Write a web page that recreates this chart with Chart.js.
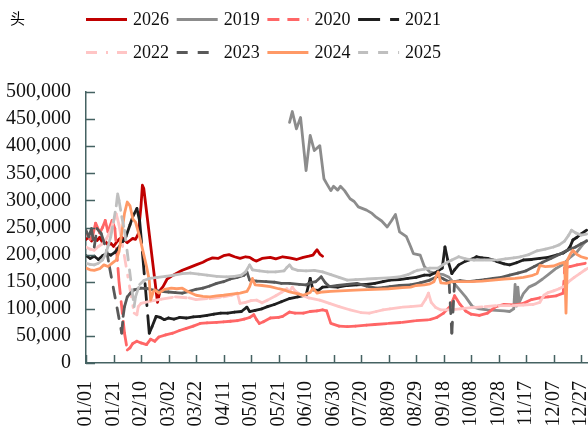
<!DOCTYPE html>
<html>
<head>
<meta charset="utf-8">
<script src="https://cdn.jsdelivr.net/npm/chart.js@4/dist/chart.umd.min.js"></script>
<style>
  html, body { margin: 0; padding: 0; background: #fff; }
  #wrap { position: relative; width: 588px; height: 436px; }
  #unit { position: absolute; left: 10px; top: 7px; font: 15px "Noto Sans CJK SC", sans-serif; color: #000; }
</style>
</head>
<body>
<div id="wrap">
  <canvas id="chart"></canvas>
  <div id="unit">头</div>
</div>
<script>
// day of year (0 = 01/01), value in thousand heads
const s2026 = [[0,228],[2,232],[4,225],[6,230],[8,226],[10,232],[12,222],[14,225],[16,218],[18,221],[20,215],[22,222],[24,228],[26,232],[28,227],[30,222],[32,226],[34,230],[36,228],[38,238],[40,290],[41,328],[42,322],[52,112],[54,135],[56,141],[59,155],[62,160],[65,164],[70,171],[75,176],[80,181],[85,186],[88,190],[92,194],[96,193],[100,198],[104,200],[108,196],[112,193],[116,196],[119,195],[122,190],[124,188],[128,193],[134,195],[138,192],[143,196],[148,194],[153,191],[158,195],[162,197],[165,199],[167,206],[168,209],[170,201],[172,197]];
const s2019 = [[148,444],[150,464],[153,432],[156,453],[160,355],[163,420],[166,392],[170,401],[173,340],[175,331],[178,318],[180,326],[183,319],[185,326],[188,318],[192,303],[195,298],[198,288],[204,282],[208,276],[211,269],[215,262],[219,251],[222,262],[225,274],[228,242],[233,233],[236,215],[238,202],[243,199],[246,178],[250,168],[255,165],[260,163],[264,158],[270,140],[276,122],[281,104],[286,100],[292,98],[298,97],[304,96],[308,95],[311,100],[312,145],[313,105],[314,140],[315,112],[318,128],[322,140],[327,146],[332,155],[337,165],[342,175],[347,182],[352,195],[357,205],[361,218],[364,226]];
const s2020 = [[0,242],[3,228],[5,236],[7,258],[10,240],[12,250],[14,263],[16,242],[19,263],[21,248],[24,150],[28,55],[30,24],[32,28],[34,36],[37,40],[40,37],[44,34],[47,44],[50,40],[53,48],[58,52],[63,55],[68,60],[73,64],[78,68],[83,73],[88,74],[95,75],[100,76],[105,77],[110,78],[115,81],[119,84],[122,89],[124,80],[126,73],[129,76],[134,83],[140,84],[143,86],[148,94],[152,92],[158,92],[163,95],[168,96],[172,98],[175,96],[178,73],[184,68],[190,67],[196,68],[204,70],[210,71],[220,73],[230,75],[240,78],[250,80],[255,84],[260,92],[265,105],[268,124],[272,108],[276,96],[280,90],[286,88],[292,92],[298,104],[304,108],[311,107],[318,110],[324,117],[330,120],[336,122],[342,124],[347,129],[348,175],[352,178],[357,181],[363,184]];
const s2021 = [[0,198],[3,193],[6,197],[9,191],[12,198],[15,202],[18,199],[21,204],[24,214],[27,225],[29,233],[32,255],[34,270],[37,285],[39,262],[41,205],[46,55],[48,67],[51,86],[54,84],[57,80],[60,83],[64,81],[68,84],[73,83],[78,85],[83,86],[88,88],[93,90],[98,92],[103,92],[108,94],[113,95],[117,103],[119,95],[123,97],[128,100],[132,104],[137,108],[142,113],[148,119],[154,122],[160,125],[163,156],[165,135],[169,134],[172,140],[177,141],[183,140],[190,143],[197,144],[204,145],[210,147],[216,150],[221,153],[228,154],[234,156],[240,158],[246,162],[250,162],[255,168],[259,175],[261,214],[263,190],[266,165],[268,172],[271,181],[276,188],[281,192],[284,196],[288,194],[292,193],[296,190],[299,187],[304,183],[308,181],[313,185],[318,190],[324,191],[330,193],[336,195],[342,199],[347,203],[350,208],[352,215],[354,227],[357,232],[360,238],[364,245]];
const s2022 = [[0,214],[3,210],[6,208],[9,215],[12,220],[15,230],[18,245],[20,262],[22,275],[24,255],[35,92],[37,89],[38,104],[40,110],[47,114],[55,118],[65,122],[75,120],[80,117],[90,119],[100,122],[106,125],[110,129],[112,110],[116,112],[120,115],[124,116],[128,111],[132,116],[138,124],[142,130],[146,137],[148,132],[150,140],[152,133],[156,126],[162,120],[170,116],[177,110],[184,104],[192,98],[200,93],[206,92],[211,95],[216,98],[221,100],[230,103],[236,104],[244,106],[247,118],[249,129],[251,112],[254,103],[258,98],[265,98],[272,100],[280,102],[290,104],[300,106],[310,106],[318,107],[325,108],[330,112],[333,125],[336,130],[340,133],[344,137],[348,142],[351,150],[355,158],[359,165],[363,172],[365,175]];
const s2023 = [[0,245],[2,233],[4,248],[6,214],[8,248],[11,239],[15,208],[17,178],[26,55],[27,86],[28,104],[30,122],[32,128],[35,135],[40,138],[45,137],[50,134],[55,132],[60,131],[65,130],[70,129],[75,132],[80,136],[85,138],[90,142],[95,147],[100,150],[105,155],[110,158],[115,162],[117,168],[119,153],[124,151],[131,150],[137,149],[142,147],[148,147],[155,145],[160,144],[163,148],[167,150],[171,159],[174,148],[177,141],[183,143],[190,145],[197,147],[204,142],[211,138],[216,139],[221,141],[228,143],[236,144],[243,148],[250,153],[256,160],[260,155],[264,150],[266,55],[268,150],[272,152],[278,150],[284,152],[290,154],[296,156],[302,158],[308,162],[314,166],[320,170],[326,178],[332,186],[338,193],[344,200],[350,208],[356,214],[360,220],[364,225]];
const s2024 = [[0,175],[3,172],[6,171],[10,174],[13,181],[16,178],[20,186],[22,190],[24,205],[26,240],[28,276],[30,297],[32,290],[34,266],[36,260],[39,233],[42,200],[44,178],[46,153],[47,116],[49,132],[50,135],[53,129],[57,136],[62,138],[66,137],[70,138],[74,132],[80,125],[85,123],[90,122],[95,124],[100,125],[106,127],[112,129],[117,132],[119,141],[121,156],[123,144],[128,143],[134,141],[140,137],[144,135],[148,131],[152,129],[155,127],[158,125],[163,130],[165,138],[168,129],[172,131],[178,132],[185,133],[192,134],[200,135],[210,136],[220,137],[230,139],[236,140],[240,143],[246,144],[250,146],[253,150],[256,168],[258,148],[262,147],[266,150],[272,150],[280,150],[288,151],[296,153],[304,155],[312,156],[318,158],[324,161],[328,165],[330,180],[334,178],[340,179],[345,184],[348,186],[349,92],[350,190],[352,200],[354,208],[357,200],[360,196],[364,193]];
const s2025 = [[0,184],[3,182],[6,181],[9,184],[12,190],[14,200],[16,215],[18,233],[20,260],[22,290],[23,312],[24,300],[26,270],[28,245],[35,104],[36,122],[39,145],[42,152],[46,156],[52,158],[58,160],[64,162],[70,165],[76,166],[82,164],[88,162],[95,160],[102,159],[108,160],[113,162],[116,168],[119,181],[121,172],[126,170],[132,168],[138,168],[144,170],[146,176],[148,181],[150,174],[154,171],[160,170],[166,171],[172,168],[178,163],[184,158],[190,153],[196,154],[204,155],[212,156],[220,157],[228,159],[234,163],[238,168],[241,171],[246,173],[250,175],[256,175],[260,182],[266,190],[271,196],[276,192],[282,190],[290,190],[299,190],[305,192],[311,194],[316,196],[322,200],[328,207],[334,210],[340,214],[344,218],[348,225],[351,236],[353,245],[356,240],[360,236],[364,238]];

const tickDays = [0,20,40,60,80,100,120,140,160,180,200,220,240,260,280,300,320,340,360];
const tickLabels = ['01/01','01/21','02/10','03/02','03/22','04/11','05/01','05/21','06/10','06/30','07/20','08/09','08/29','09/18','10/08','10/28','11/17','12/07','12/27'];

const years  = ['2026','2019','2020','2021','2022','2023','2024','2025'];
const series = [s2026, s2019, s2020, s2021, s2022, s2023, s2024, s2025];
const colors = ['#c00000','#8c8c8c','#ff6666','#1f1f1f','#ffc5c5','#595959','#ff9966','#bfbfbf'];
const dashes = [null, null, [12,8], [22,10], [11,9,2,9], [11,10], null, [10,10]];

const AXIS = '#456262';
const SERIF = '"Liberation Serif", "Times New Roman", serif';

// Excel restarts the dash pattern on every segment: alternate the offset so each
// segment becomes its own run, short segments then look solid
function segmentDash(pattern) {
  return {
    borderDash: () => pattern,
    borderDashOffset: c => (c.p0DataIndex % 2) * 0.01
  };
}

const datasets = series.map(function(s, i) {
  const ds = {
    label: years[i],
    data: s.map(function(p) { return { x: p[0], y: p[1] * 1000 }; }),
    borderColor: colors[i],
    backgroundColor: colors[i],
    borderWidth: 2.8,
    pointRadius: 0,
    borderJoinStyle: 'round',
    borderCapStyle: 'round',
    tension: 0,
    order: series.length - i,
    legendDash: dashes[i]
  };
  if (dashes[i]) ds.segment = segmentDash(dashes[i]);
  return ds;
});

// legend in two rows of four, line sample + year
const yearLegend = {
  id: 'yearLegend',
  afterDraw(chart) {
    const ctx = chart.ctx;
    ctx.save();
    ctx.font = '18px ' + SERIF;
    ctx.textBaseline = 'middle';
    chart.data.datasets.forEach(function(ds, i) {
      const x = 86 + (i % 4) * 90.7;
      const y = i < 4 ? 19.5 : 52.5;
      ctx.strokeStyle = ds.borderColor;
      ctx.lineWidth = 3;
      ctx.lineCap = 'butt';
      ctx.setLineDash(ds.legendDash || []);
      ctx.beginPath();
      ctx.moveTo(x, y);
      ctx.lineTo(x + 41, y);
      ctx.stroke();
      ctx.setLineDash([]);
      ctx.fillStyle = '#111';
      ctx.fillText(ds.label, x + 47, y + 1);
    });
    ctx.restore();
  }
};

// short tick marks pointing into the plot
const innerTicks = {
  id: 'innerTicks',
  afterDatasetsDraw(chart) {
    const ctx = chart.ctx, xs = chart.scales.x, ys = chart.scales.y, a = chart.chartArea;
    ctx.save();
    ctx.strokeStyle = AXIS;
    ctx.lineWidth = 1.5;
    ctx.beginPath();
    ys.ticks.forEach(function(t) {
      const py = Math.round(ys.getPixelForValue(t.value)) + 0.5;
      ctx.moveTo(a.left, py); ctx.lineTo(a.left + 9, py);
    });
    tickDays.forEach(function(d) {
      const px = Math.round(xs.getPixelForValue(d)) + 0.5;
      ctx.moveTo(px, a.bottom); ctx.lineTo(px, a.bottom - 8);
    });
    ctx.stroke();
    ctx.restore();
  }
};

new Chart(document.getElementById('chart').getContext('2d'), {
  type: 'line',
  data: { datasets: datasets },
  options: {
    responsive: true, maintainAspectRatio: false, animation: false,
    layout: { padding: { top: 92, right: 0, bottom: 0, left: 0 }, autoPadding: false },
    plugins: { legend: { display: false }, tooltip: { enabled: false } },
    scales: {
      x: {
        type: 'linear', min: 0, max: 365,
        afterBuildTicks: function(s) { s.ticks = tickDays.map(function(v) { return { value: v }; }); },
        afterFit: function(s) { s.height = 73; s.paddingLeft = 0; s.paddingRight = 0; },
        grid: { display: false, drawTicks: false },
        border: { display: true, color: AXIS, width: 1.5 },
        ticks: {
          autoSkip: false, minRotation: 90, maxRotation: 90, padding: 18,
          color: '#111', font: { family: SERIF, size: 20 },
          callback: function(v) { return tickLabels[tickDays.indexOf(v)]; }
        }
      },
      y: {
        min: 0, max: 500000,
        afterFit: function(s) { s.width = 86; s.paddingTop = 0; s.paddingBottom = 0; },
        grid: { display: false, drawTicks: false },
        border: { display: true, color: AXIS, width: 1.5 },
        ticks: {
          stepSize: 50000, padding: 15,
          color: '#111', font: { family: SERIF, size: 20 },
          callback: function(v) { return v.toLocaleString('en-US'); }
        }
      }
    }
  },
  plugins: [yearLegend, innerTicks]
});
</script>
</body>
</html>
